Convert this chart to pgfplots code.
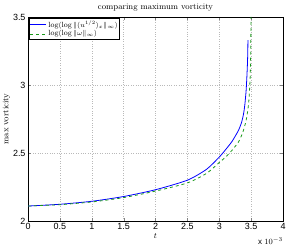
\documentclass[border=0pt]{standalone}
\usepackage{pgfplots}
\pgfplotsset{compat=1.18}
\usepackage{fontspec}
\newfontfamily\helv{Liberation Sans}
\definecolor{mblue}{rgb}{0,0,1}
\definecolor{mgreen}{rgb}{0.1,0.6,0.1}
\begin{document}
\begin{tikzpicture}
\begin{axis}[
  name=ax,
  scale only axis,
  width=255bp, height=204bp,
  xmin=0, xmax=4, ymin=2, ymax=3.5,
  xtick={0,0.5,...,4}, ytick={2,2.5,3,3.5},
  xticklabels={0,0.5,1,1.5,2,2.5,3,3.5,4},
  yticklabels={2,2.5,3,3.5},
  tick align=inside,
  major tick length=3bp,
  grid=major,
  grid style={dotted, gray!55, line width=0.4pt},
  axis line style={line width=0.5pt},
  tick label style={font=\helv\fontsize{9}{10}\selectfont},
  xticklabel style={yshift=1bp},
  yticklabel style={xshift=1bp},
  title={comparing maximum vorticity},
  title style={font=\fontsize{8.5}{10}\selectfont, yshift=-4bp},
  xlabel={$t$},
  ylabel={max vorticity},
  label style={font=\fontsize{8.5}{10}\selectfont},
  xlabel style={yshift=3bp},
  ylabel style={yshift=-4bp},
  legend cell align=left,
  legend image code/.code={\draw[#1] plot coordinates {(0bp,0bp) (8bp,0bp) (16bp,0bp)};},
  legend style={font=\fontsize{7.5}{9}\selectfont, draw=black, line width=0.6pt, inner sep=0.5pt, row sep=-1pt, at={(0.005,0.995)}, anchor=north west, nodes={inner sep=1.5pt}},
  clip=true,
]
\addplot[mblue, line width=0.8pt, smooth, tension=0.4] coordinates {
(0,2.11) (0.5,2.123) (1.0,2.145) (1.5,2.18) (2.0,2.23) (2.5,2.30) (2.8,2.38) (3.0,2.47)
(3.1,2.525) (3.2,2.585) (3.3,2.665) (3.35,2.725) (3.38,2.785) (3.40,2.85) (3.42,2.95) (3.43,3.03) (3.44,3.13) (3.447,3.23) (3.45,3.33)
};
\addlegendentry{$\log(\log\|(u^{1/2})_x\|_\infty)$}
\addplot[mgreen, dashed, line width=0.8pt, smooth, tension=0.4] coordinates {
(0,2.11) (0.5,2.12) (1.0,2.14) (1.5,2.172) (2.0,2.22) (2.5,2.28) (2.8,2.35) (3.0,2.43)
(3.1,2.47) (3.2,2.52) (3.3,2.58) (3.36,2.64) (3.40,2.70) (3.43,2.76) (3.46,2.86) (3.475,2.96) (3.485,3.06) (3.49,3.15) (3.495,3.3) (3.498,3.5)
};
\addlegendentry{$\log(\log\|\omega\|_\infty)$}
\end{axis}
\node[anchor=south east, font=\helv\fontsize{8}{9}\selectfont, inner sep=0pt] at ([shift={(0bp,-23.5bp)}]ax.south east) {x $10^{-3}$};
\pgfresetboundingbox
\path ([shift={(-28bp,-24bp)}]ax.south west) rectangle ([shift={(5bp,17bp)}]ax.north east);
\end{tikzpicture}
\end{document}
